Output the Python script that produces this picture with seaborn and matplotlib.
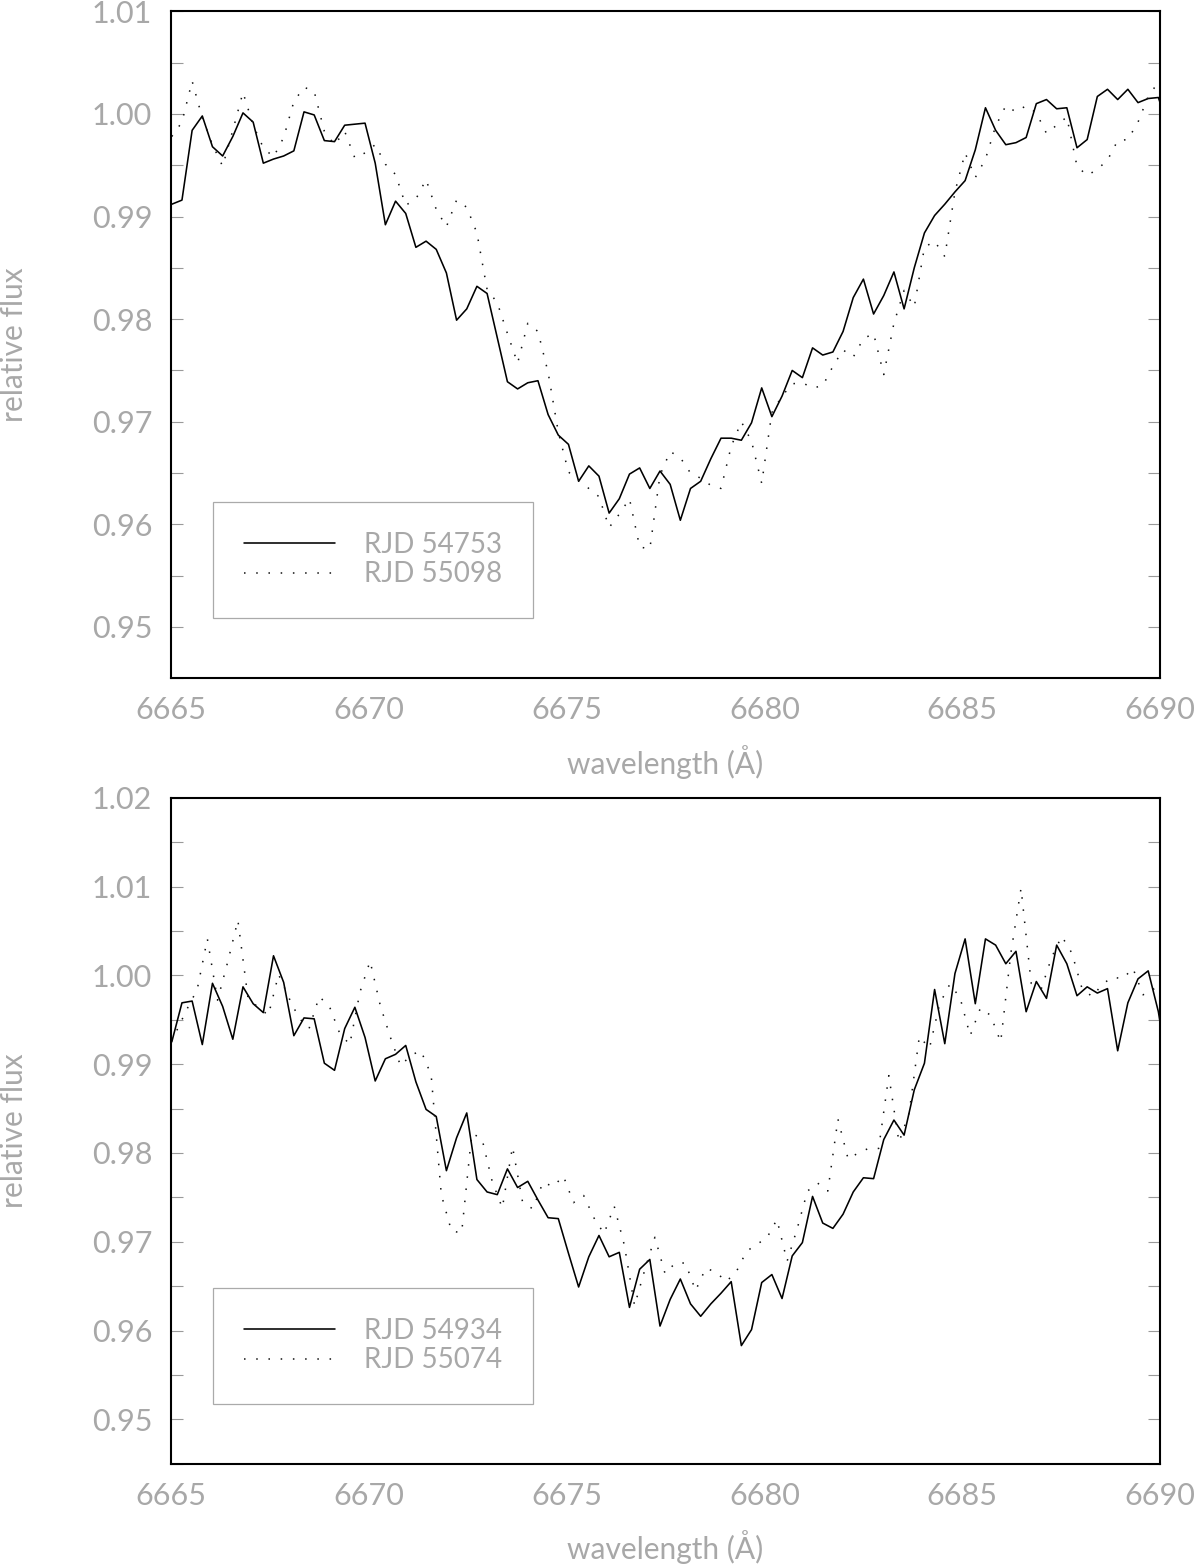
import numpy as np
import pandas as pd
import matplotlib
matplotlib.use("Agg")
import matplotlib.pyplot as plt
from matplotlib.ticker import MultipleLocator, FormatStrFormatter
import seaborn as sns

# ---------------- data ----------------
WAVE_START = 6665.02      # first wavelength sample (Angstrom)
WAVE_STEP = 0.2571        # spectral sampling (Angstrom)
BOTTOM_DOTTED_SHIFT = 0.128

top_solid = [0.9912, 0.9916, 0.9984, 0.9998, 0.9968, 0.9959, 0.9978, 1.0001, 0.9992, 0.9952,
             0.9956, 0.9959, 0.9964, 1.0002, 0.9999, 0.9974, 0.9973, 0.9989, 0.9990, 0.9991,
             0.9952, 0.9892, 0.9915, 0.9903, 0.9870, 0.9876, 0.9868, 0.9845, 0.9799, 0.9810,
             0.9832, 0.9825, 0.9782, 0.9739, 0.9732, 0.9738, 0.9740, 0.9707, 0.9687, 0.9678,
             0.9642, 0.9657, 0.9647, 0.9611, 0.9625, 0.9649, 0.9655, 0.9635, 0.9652, 0.9639,
             0.9604, 0.9635, 0.9642, 0.9664, 0.9684, 0.9684, 0.9682, 0.9699, 0.9733, 0.9705,
             0.9725, 0.9750, 0.9743, 0.9772, 0.9765, 0.9768, 0.9788, 0.9821, 0.9839, 0.9805,
             0.9823, 0.9846, 0.9810, 0.9850, 0.9884, 0.9901, 0.9912, 0.9924, 0.9935, 0.9965,
             1.0006, 0.9984, 0.9970, 0.9972, 0.9977, 1.0010, 1.0014, 1.0005, 1.0006, 0.9967,
             0.9975, 1.0017, 1.0024, 1.0014, 1.0024, 1.0011, 1.0015, 1.0016, 0.9986]

top_dotted = [0.9978, 0.9992, 1.0032, 0.9996, 0.9970, 0.9949, 0.9984, 1.0021, 0.9989, 0.9967,
              0.9958, 0.9977, 1.0012, 1.0026, 1.0022, 0.9983, 0.9970, 0.9983, 0.9957, 0.9962,
              0.9970, 0.9951, 0.9941, 0.9911, 0.9917, 0.9936, 0.9907, 0.9890, 0.9916, 0.9909,
              0.9884, 0.9829, 0.9816, 0.9786, 0.9757, 0.9796, 0.9788, 0.9748, 0.9690, 0.9651,
              0.9643, 0.9635, 0.9627, 0.9597, 0.9610, 0.9625, 0.9578, 0.9576, 0.9648, 0.9671,
              0.9665, 0.9650, 0.9645, 0.9638, 0.9635, 0.9676, 0.9700, 0.9681, 0.9640, 0.9709,
              0.9725, 0.9737, 0.9738, 0.9733, 0.9735, 0.9754, 0.9770, 0.9763, 0.9781, 0.9786,
              0.9746, 0.9796, 0.9828, 0.9812, 0.9870, 0.9876, 0.9861, 0.9924, 0.9962, 0.9938,
              0.9956, 0.9988, 1.0008, 1.0002, 1.0008, 1.0001, 0.9981, 0.9989, 0.9997, 0.9949,
              0.9940, 0.9946, 0.9955, 0.9974, 0.9975, 0.9992, 1.0017, 1.0031]

bot_solid = [0.9925, 0.9969, 0.9971, 0.9922, 0.9991, 0.9965, 0.9928, 0.9987, 0.9968, 0.9958,
             1.0022, 0.9992, 0.9932, 0.9952, 0.9951, 0.9901, 0.9893, 0.9940, 0.9964, 0.9930,
             0.9881, 0.9906, 0.9911, 0.9921, 0.9880, 0.9849, 0.9841, 0.9780, 0.9817, 0.9845,
             0.9770, 0.9756, 0.9753, 0.9782, 0.9761, 0.9768, 0.9747, 0.9727, 0.9726, 0.9687,
             0.9649, 0.9683, 0.9707, 0.9683, 0.9688, 0.9626, 0.9669, 0.9680, 0.9605, 0.9635,
             0.9658, 0.9630, 0.9616, 0.9630, 0.9642, 0.9655, 0.9583, 0.9601, 0.9654, 0.9663,
             0.9636, 0.9684, 0.9699, 0.9751, 0.9721, 0.9715, 0.9731, 0.9756, 0.9772, 0.9771,
             0.9815, 0.9837, 0.9820, 0.9871, 0.9901, 0.9984, 0.9923, 1.0002, 1.0041, 0.9968,
             1.0041, 1.0034, 1.0013, 1.0027, 0.9959, 0.9993, 0.9974, 1.0034, 1.0013, 0.9977,
             0.9987, 0.9980, 0.9985, 0.9915, 0.9969, 0.9996, 1.0005, 0.9959, 0.9888]

bot_dotted = [0.9938, 0.9962, 0.9984, 1.0041, 0.9972, 1.0015, 1.0062, 0.9974, 0.9964, 0.9955,
              1.0001, 0.9975, 0.9952, 0.9940, 0.9976, 0.9965, 0.9935, 0.9922, 0.9981, 1.0016,
              0.9966, 0.9930, 0.9898, 0.9910, 0.9915, 0.9888, 0.9753, 0.9712, 0.9710, 0.9822,
              0.9816, 0.9768, 0.9738, 0.9807, 0.9744, 0.9737, 0.9767, 0.9762, 0.9774, 0.9744,
              0.9752, 0.9727, 0.9709, 0.9740, 0.9696, 0.9628, 0.9668, 0.9705, 0.9664, 0.9676,
              0.9676, 0.9645, 0.9670, 0.9666, 0.9655, 0.9666, 0.9689, 0.9697, 0.9704, 0.9725,
              0.9678, 0.9715, 0.9757, 0.9766, 0.9757, 0.9838, 0.9793, 0.9800, 0.9805, 0.9805,
              0.9887, 0.9812, 0.9845, 0.9931, 0.9918, 0.9968, 0.9990, 0.9975, 0.9932, 0.9963,
              0.9955, 0.9925, 1.0025, 1.0098, 0.9991, 0.9985, 1.0020, 1.0044, 1.0025, 0.9985,
              0.9976, 0.9990, 0.9998, 0.9996, 1.0008, 0.9978, 0.9985, 0.9970]

top_labels = ["RJD 54753", "RJD 55098"]
bot_labels = ["RJD 54934", "RJD 55074"]
x_ticks = [6665, 6670, 6675, 6680, 6685, 6690]
x_lim = (6665, 6690)
top_ylim = (0.945, 1.01)
bot_ylim = (0.945, 1.02)

# ---------------- style ----------------
sns.set_style("white")
TXT = "#a8a8a8"
FW = "normal"
plt.rcParams["font.family"] = ["Lato", "DejaVu Sans"]
plt.rcParams["font.weight"] = FW

def wave(n, shift=0.0):
    return WAVE_START + shift + WAVE_STEP * np.arange(n)

fig = plt.figure(figsize=(12, 15.67), dpi=100)
W, H = 1200.0, 1567.0
ax1 = fig.add_axes([171 / W, 1 - 678.3 / H, 989 / W, 667 / H])
ax2 = fig.add_axes([171 / W, 1 - 1463.7 / H, 989 / W, 666 / H])

panels = [
    (ax1, top_solid, top_dotted, 0.0, top_labels, top_ylim, 0.0904),
    (ax2, bot_solid, bot_dotted, BOTTOM_DOTTED_SHIFT, bot_labels, bot_ylim, 0.0896),
]

for ax, solid, dotted, shift, labels, ylim, ly in panels:
    df_s = pd.DataFrame({"wave": wave(len(solid)), "flux": solid})
    df_d = pd.DataFrame({"wave": wave(len(dotted), shift), "flux": dotted})
    sns.lineplot(data=df_s, x="wave", y="flux", ax=ax, color="black", lw=1.15,
                 errorbar=None, sort=False, label=labels[0])
    sns.lineplot(data=df_d, x="wave", y="flux", ax=ax, color="#111111", lw=1.1,
                 linestyle=(0, (1, 7)), errorbar=None, sort=False, label=labels[1])
    ax.set_xlim(*x_lim)
    ax.set_ylim(*ylim)
    ax.set_xticks(x_ticks)
    ax.set_xticklabels([str(t) for t in x_ticks])
    ax.yaxis.set_major_locator(MultipleLocator(0.01))
    ax.yaxis.set_minor_locator(MultipleLocator(0.005))
    ax.yaxis.set_major_formatter(FormatStrFormatter("%.2f"))
    ax.tick_params(axis="y", which="both", direction="in", length=8.6, width=0.8,
                   color="#9a9a9a", left=True, right=True, labelsize=22,
                   labelcolor=TXT, pad=13.5)
    ax.tick_params(axis="x", which="both", direction="in", length=0,
                   labelsize=22, labelcolor=TXT, pad=13)
    for sp in ax.spines.values():
        sp.set_color("black")
        sp.set_linewidth(1.5)
        sp.set_visible(True)
    ax.set_xlabel("wavelength (Å)", fontsize=21.5, color=TXT)
    ax.set_ylabel("relative flux", fontsize=21.5, color=TXT)
    ax.xaxis.set_label_coords(0.5, -0.1)
    ax.yaxis.set_label_coords(-0.145, 0.5)
    leg = ax.legend(loc="lower left", bbox_to_anchor=(0.0425, ly), borderaxespad=0,
                    prop={"size": 20}, handlelength=3.3,
                    handletextpad=1.05, borderpad=1.1,
                    labelspacing=0.12, frameon=True, fancybox=False, framealpha=1,
                    edgecolor="#aaaaaa")
    leg.get_frame().set_linewidth(0.9)
    for t in leg.get_texts():
        t.set_color(TXT)

fig.savefig("out.png", dpi=100)
